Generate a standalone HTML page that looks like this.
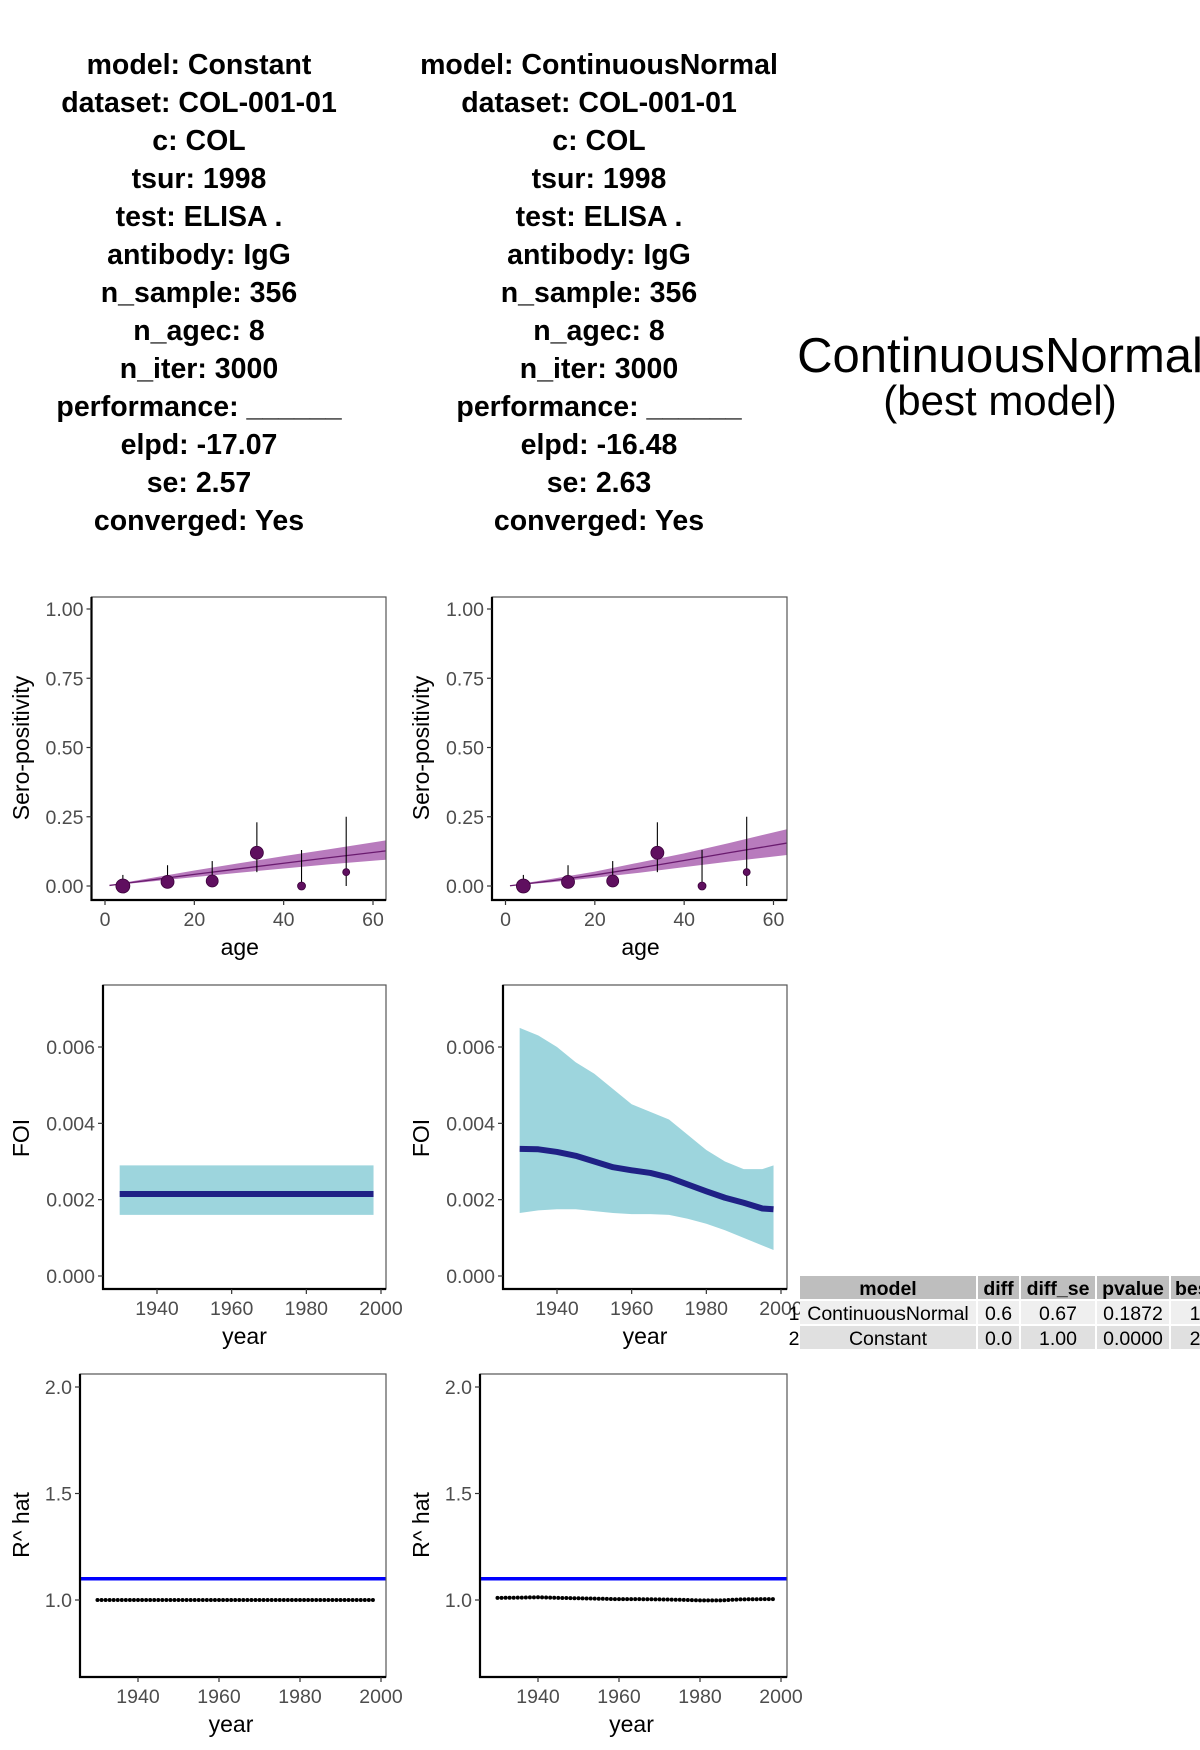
<!DOCTYPE html>
<html><head><meta charset="utf-8"><style>
body{margin:0;width:1200px;height:1750px;background:#fff;overflow:hidden;position:relative;font-family:"Liberation Sans",Arial,sans-serif}
.info{position:absolute;top:46px;width:400px;text-align:center;font-weight:bold;font-size:28.5px;line-height:38px;color:#000}
#best{position:absolute;left:780px;top:330px;width:440px;text-align:center;color:#000}
</style></head><body>
<div class="info" style="left:-1px">model: Constant<br>dataset: COL-001-01<br>c: COL<br>tsur: 1998<br>test: ELISA .<br>antibody: IgG<br>n_sample: 356<br>n_agec: 8<br>n_iter: 3000<br>performance: ______<br>elpd: -17.07<br>se: 2.57<br>converged: Yes</div>
<div class="info" style="left:399px">model: ContinuousNormal<br>dataset: COL-001-01<br>c: COL<br>tsur: 1998<br>test: ELISA .<br>antibody: IgG<br>n_sample: 356<br>n_agec: 8<br>n_iter: 3000<br>performance: ______<br>elpd: -16.48<br>se: 2.63<br>converged: Yes</div>
<div id="best"><div style="font-size:49px;line-height:52px">ContinuousNormal</div><div style="font-size:42px;line-height:38px">(best model)</div></div>
<svg id="chart" width="1200" height="1750" style="position:absolute;left:0;top:0"></svg>
<script>
// sero-positivity data
const ageObs=[4,14,24,34,44,54];
const seroObs=[0,0.015,0.018,0.12,0,0.05];
const seroHi=[0.04,0.075,0.09,0.23,0.13,0.25];
const seroLo=[0,0,0,0.05,0,0];
const seroSize=[7,6.5,6,6.5,4,3.5];
const fitAges=[1,10,20,30,40,50,63];
const constMean=[0.002,0.021,0.042,0.062,0.082,0.102,0.127];
const constLo=[0.0016,0.016,0.032,0.048,0.063,0.078,0.095];
const constHi=[0.0029,0.028,0.056,0.082,0.108,0.132,0.165];
const cnMean=[0.001,0.018,0.040,0.065,0.092,0.120,0.155];
const cnLo=[0.001,0.013,0.030,0.048,0.068,0.088,0.112];
const cnHi=[0.002,0.025,0.052,0.085,0.118,0.155,0.205];
// FOI data
const foiYears=[1930,1935,1940,1945,1950,1955,1960,1965,1970,1975,1980,1985,1990,1995,1998];
const foiConstMean=[0.00215,0.00215,0.00215,0.00215,0.00215,0.00215,0.00215,0.00215,0.00215,0.00215,0.00215,0.00215,0.00215,0.00215,0.00215];
const foiConstLo=[0.0016,0.0016,0.0016,0.0016,0.0016,0.0016,0.0016,0.0016,0.0016,0.0016,0.0016,0.0016,0.0016,0.0016,0.0016];
const foiConstHi=[0.0029,0.0029,0.0029,0.0029,0.0029,0.0029,0.0029,0.0029,0.0029,0.0029,0.0029,0.0029,0.0029,0.0029,0.0029];
const foiCnMean=[0.00333,0.00332,0.00325,0.00315,0.00300,0.00285,0.00277,0.00270,0.00258,0.00240,0.00222,0.00205,0.00192,0.00177,0.00175];
const foiCnHi=[0.0065,0.0063,0.0060,0.0056,0.0053,0.0049,0.0045,0.0043,0.0041,0.0037,0.0033,0.0030,0.0028,0.0028,0.0029];
const foiCnLo=[0.00165,0.00172,0.00175,0.00175,0.00170,0.00165,0.00162,0.00162,0.00160,0.00150,0.00137,0.00120,0.00100,0.00080,0.00068];
// Rhat data
const rhatYears=[1930,1935,1940,1945,1950,1955,1960,1965,1970,1975,1980,1985,1990,1995,1998];
const rhatConst=[1,1,1,1,1,1,1,1,1,1,1,1,1,1,1];
const rhatCn=[1.01,1.011,1.013,1.01,1.008,1.006,1.004,1.004,1.003,1.001,0.998,0.998,1.003,1.004,1.004];
const rhatThreshold=1.1;
const seroTicks=["0.00","0.25","0.50","0.75","1.00"];
const ageTicks=["0","20","40","60"];
const foiTicks=["0.000","0.002","0.004","0.006"];
const yearTicks=["1940","1960","1980","2000"];
const rhatTicks=["1.0","1.5","2.0"];

const svg=document.getElementById('chart');
const NS='http://www.w3.org/2000/svg';
function mk(tag,attrs,parent){const e=document.createElementNS(NS,tag);for(const k in attrs)e.setAttribute(k,attrs[k]);(parent||svg).appendChild(e);return e;}
function lin(d0,d1,r0,r1){return v=>r0+(v-d0)*(r1-r0)/(d1-d0);}
function frame(g,L,R,T,B){
  mk('rect',{x:L,y:T,width:R-L,height:B-T,fill:'none',stroke:'#555','stroke-width':1.2},g);
  mk('line',{x1:L,y1:T,x2:L,y2:B+1,stroke:'#000','stroke-width':2.2},g);
  mk('line',{x1:L-1,y1:B,x2:R,y2:B,stroke:'#000','stroke-width':2.2},g);
}
function yAxis(g,L,ticks,ys,title,titleX,titleY){
  ticks.forEach(t=>{const y=ys(parseFloat(t));
    mk('line',{x1:L-5,y1:y,x2:L,y2:y,stroke:'#333','stroke-width':1.2},g);
    const tx=mk('text',{x:L-8,y:y+7,'text-anchor':'end','font-size':19.5,fill:'#4d4d4d'},g);tx.textContent=t;});
  const tt=mk('text',{x:0,y:0,transform:`translate(${titleX},${titleY}) rotate(-90)`,'text-anchor':'middle','font-size':23,fill:'#000'},g);
  
  
  tt.textContent=title;
}
function xAxis(g,B,ticks,xs,title,tx){
  ticks.forEach(t=>{const x=xs(parseFloat(t));
    mk('line',{x1:x,y1:B,x2:x,y2:B+5,stroke:'#333','stroke-width':1.2},g);
    const e=mk('text',{x:x,y:B+26,'text-anchor':'middle','font-size':19.5,fill:'#4d4d4d'},g);e.textContent=t;});
  const e=mk('text',{x:tx,y:B+55,'text-anchor':'middle','font-size':23,fill:'#000'},g);
  
  
  e.textContent=title;
}
function band(g,xsArr,lo,hi,xs,ys,fill){
  let d='M'+xsArr.map((a,i)=>xs(a)+','+ys(hi[i])).join('L');
  d+='L'+xsArr.map((a,i)=>xs(a)+','+ys(lo[i])).reverse().join('L')+'Z';
  return mk('path',{d:d,fill:fill},g);
}
function line(g,xsArr,v,xs,ys,stroke,w){
  return mk('path',{d:'M'+xsArr.map((a,i)=>xs(a)+','+ys(v[i])).join('L'),fill:'none',stroke:stroke,'stroke-width':w,'stroke-linejoin':'round'},g);
}
function seroPanel(L,R,mean,lo,hi,name,titleX){
  const T=597,B=900;
  const g=mk('g',{});
  
  
  const xs=lin(0,60,L+13.5,L+281.5), ys=lin(0,1,886,609);
  const cpath=mk('clipPath',{id:'c'+name},g);
  mk('rect',{x:L,y:T,width:R-L,height:B-T},cpath);
  const inner=mk('g',{'clip-path':`url(#c${name})`},g);
  band(inner,fitAges,lo,hi,xs,ys,'#b87bbd');
  line(inner,fitAges,mean,xs,ys,'#6a1b6f',1.3);
  ageObs.forEach((a,i)=>{
    const el=mk('line',{x1:xs(a),y1:ys(seroLo[i]),x2:xs(a),y2:ys(seroHi[i]),stroke:'#000','stroke-width':1.1},inner);
    
    
    const c=mk('circle',{cx:xs(a),cy:ys(seroObs[i]),r:seroSize[i],fill:'#5f0f5f',stroke:'#3a003a','stroke-width':0.8},inner);
    
    
  });
  frame(g,L,R,T,B);
  yAxis(g,L,seroTicks,ys,'Sero-positivity',titleX,748);
  xAxis(g,B,ageTicks,xs,'age',(L+R)/2+1);
}
function foiPanel(L,R,mean,lo,hi,name,titleX){
  const T=985,B=1289;
  const g=mk('g',{});
  
  
  const xs=lin(1940,2000,L+54,L+278), ys=lin(0,0.006,1276,1047);
  band(g,foiYears,lo,hi,xs,ys,'#9dd5dd');
  line(g,foiYears,mean,xs,ys,'#1f2185',6);
  frame(g,L,R,T,B);
  yAxis(g,L,foiTicks,ys,'FOI',titleX,1138);
  xAxis(g,B,yearTicks,xs,'year',(L+R)/2);
}
function rhatPanel(L,R,vals,name,titleX){
  const T=1374,B=1677;
  const g=mk('g',{});
  
  
  const xs=lin(1940,2000,L+58,L+301), ys=lin(1,2,1600,1387);
  const th=mk('line',{x1:L,x2:R,y1:ys(rhatThreshold),y2:ys(rhatThreshold),stroke:'#0000ff','stroke-width':3.5},g);
  
  
  for(let i=0;i<rhatYears.length-1;i++){
    const y0=rhatYears[i],y1=rhatYears[i+1];
    for(let yr=y0;yr<(i===rhatYears.length-2?y1+1:y1);yr++){
      const v=vals[i]+(vals[i+1]-vals[i])*Math.min(1,(yr-y0)/(y1-y0));
      const c=mk('circle',{cx:xs(yr),cy:ys(v),r:2,fill:'#000'},g);
      
      
    }
  }
  frame(g,L,R,T,B);
  yAxis(g,L,rhatTicks,ys,'R^ hat',titleX,1525);
  xAxis(g,B,yearTicks,xs,'year',(L+R)/2-2);
}
seroPanel(91.5,386,constMean,constLo,constHi,'sero-panel-constant',29);
seroPanel(492,787,cnMean,cnLo,cnHi,'sero-panel-continuousnormal',429);
foiPanel(103,386,foiConstMean,foiConstLo,foiConstHi,'foi-panel-constant',29);
foiPanel(503,787,foiCnMean,foiCnLo,foiCnHi,'foi-panel-continuousnormal',429);
rhatPanel(80,386,rhatConst,'rhat-panel-constant',29);
rhatPanel(480,787,rhatCn,'rhat-panel-continuousnormal',429);

// comparison table
const tblCols=['model','diff','diff_se','pvalue','best'];
const tblRows=[['ContinuousNormal','0.6','0.67','0.1872','1'],['Constant','0.0','1.00','0.0000','2']];
const colX=[800,978,1021,1097,1171,1221];
const rowY=[1276,1301,1326,1351];
const tg=mk('g',{});


const fills=['#bebebe','#efefef','#e0e0e0'];
for(let r=0;r<3;r++){
  for(let c=0;c<5;c++){
    mk('rect',{x:colX[c],y:rowY[r],width:colX[c+1]-colX[c]-2,height:rowY[r+1]-rowY[r]-2,fill:fills[r]},tg);
    const t=mk('text',{x:(colX[c]+colX[c+1]-2)/2,y:rowY[r]+19,'text-anchor':'middle','font-size':19.5,'font-weight':r===0?'bold':'normal',fill:'#000'},tg);
    t.textContent=r===0?tblCols[c]:tblRows[r-1][c];
  }
}
['1','2'].forEach((s,i)=>{const t=mk('text',{x:794,y:rowY[i+1]+19,'text-anchor':'middle','font-size':19.5,fill:'#000'},tg);t.textContent=s;});
</script>
</body></html>
